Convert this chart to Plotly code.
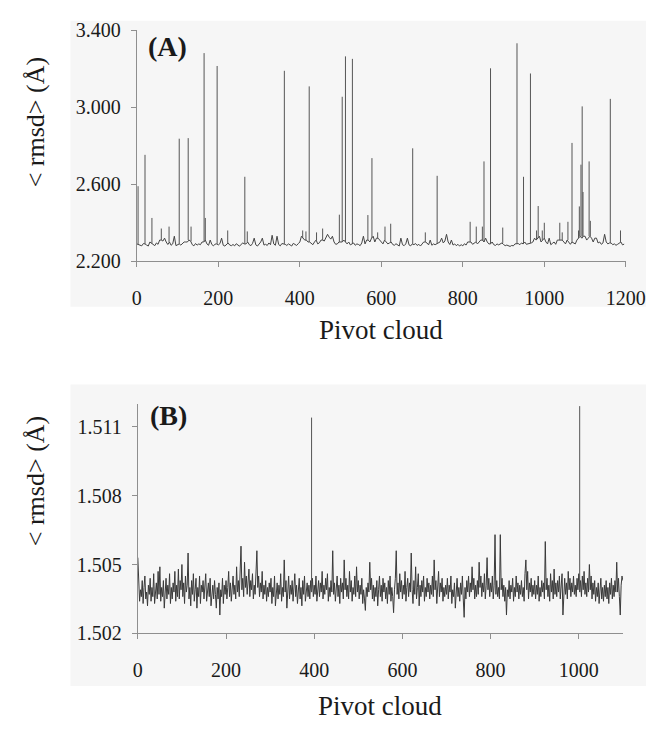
import plotly.graph_objects as go

W, H = 666, 731

# ---------------- Panel A: background trace, one value every 4 pivot clouds ----------------
A_step = 4
A_base = [
    2.290, 2.288, 2.285, 2.280, 2.292, 2.290, 2.284, 2.279, 2.300, 2.292,
    2.286, 2.281, 2.295, 2.288, 2.310, 2.310, 2.305, 2.320, 2.300, 2.287,
    2.300, 2.283, 2.290, 2.330, 2.281, 2.287, 2.290, 2.284, 2.293, 2.300,
    2.300, 2.300, 2.310, 2.305, 2.286, 2.280, 2.292, 2.284, 2.290, 2.286,
    2.300, 2.300, 2.310, 2.290, 2.283, 2.310, 2.287, 2.280, 2.289, 2.290,
    2.285, 2.292, 2.320, 2.283, 2.279, 2.290, 2.295, 2.284, 2.281, 2.287,
    2.280, 2.291, 2.284, 2.278, 2.288, 2.295, 2.290, 2.290, 2.300, 2.286,
    2.281, 2.293, 2.320, 2.285, 2.279, 2.290, 2.300, 2.320, 2.284, 2.288,
    2.282, 2.295, 2.286, 2.335, 2.290, 2.283, 2.330, 2.287, 2.280, 2.292,
    2.290, 2.288, 2.282, 2.290, 2.285, 2.279, 2.293, 2.286, 2.282, 2.291,
    2.300, 2.330, 2.320, 2.310, 2.310, 2.300, 2.300, 2.295, 2.286, 2.300,
    2.310, 2.290, 2.296, 2.310, 2.310, 2.305, 2.320, 2.340, 2.325, 2.315,
    2.330, 2.300, 2.288, 2.290, 2.300, 2.300, 2.300, 2.310, 2.300, 2.290,
    2.300, 2.285, 2.290, 2.295, 2.283, 2.290, 2.287, 2.281, 2.295, 2.330,
    2.290, 2.310, 2.310, 2.300, 2.320, 2.330, 2.300, 2.320, 2.320, 2.310,
    2.300, 2.290, 2.310, 2.300, 2.290, 2.295, 2.300, 2.287, 2.283, 2.291,
    2.284, 2.279, 2.320, 2.286, 2.281, 2.290, 2.320, 2.285, 2.280, 2.290,
    2.286, 2.292, 2.282, 2.288, 2.279, 2.293, 2.300, 2.300, 2.295, 2.285,
    2.310, 2.283, 2.290, 2.286, 2.290, 2.292, 2.300, 2.320, 2.295, 2.305,
    2.340, 2.300, 2.287, 2.310, 2.284, 2.290, 2.281, 2.288, 2.279, 2.286,
    2.280, 2.291, 2.284, 2.300, 2.300, 2.300, 2.288, 2.295, 2.300, 2.290,
    2.300, 2.310, 2.310, 2.300, 2.320, 2.300, 2.290, 2.290, 2.300, 2.286,
    2.282, 2.290, 2.285, 2.292, 2.295, 2.287, 2.281, 2.284, 2.279, 2.277,
    2.282, 2.280, 2.290, 2.290, 2.292, 2.286, 2.295, 2.290, 2.300, 2.288,
    2.290, 2.290, 2.295, 2.300, 2.320, 2.310, 2.320, 2.330, 2.300, 2.310,
    2.320, 2.300, 2.290, 2.320, 2.286, 2.293, 2.300, 2.288, 2.310, 2.310,
    2.310, 2.310, 2.300, 2.290, 2.310, 2.300, 2.288, 2.300, 2.295, 2.290,
    2.310, 2.320, 2.330, 2.320, 2.330, 2.330, 2.310, 2.320, 2.330, 2.320,
    2.300, 2.320, 2.320, 2.295, 2.300, 2.288, 2.295, 2.340, 2.300, 2.290,
    2.295, 2.295, 2.286, 2.290, 2.283, 2.288, 2.292, 2.300, 2.285, 2.289,
]
# Panel A: single-cloud peaks (pivot cloud, <rmsd>)
A_spike_cloud = [
    3, 20, 37, 60, 79, 104, 126, 133, 165, 168, 197, 223, 265, 271, 362,
    407, 415, 423, 441, 456, 497, 504, 512, 529, 567, 577, 591, 609, 623,
    677, 708, 737, 818, 833, 848, 852, 868, 898, 933, 949, 966, 981, 985,
    995, 1000, 1038, 1044, 1058, 1068, 1084, 1086, 1090, 1093, 1095, 1110,
    1113, 1162, 1187,
]
A_spike_rmsd = [
    2.590, 2.753, 2.425, 2.370, 2.380, 2.837, 2.840, 2.380, 3.282, 2.425, 3.215, 2.360, 2.639, 2.355, 3.190,
    2.360, 2.355, 3.109, 2.350, 2.370, 2.442, 3.055, 3.265, 3.252, 2.440, 2.736, 2.350, 2.380, 2.395,
    2.787, 2.350, 2.644, 2.405, 2.380, 2.380, 2.719, 3.203, 2.375, 3.333, 2.639, 3.176, 2.360, 2.487,
    2.360, 2.400, 2.400, 2.350, 2.405, 2.815, 2.360, 2.485, 2.702, 3.005, 2.560, 2.719,
    2.410, 3.044, 2.360,
]

# ---------------- Panel B: background trace, one value every 2 pivot clouds ----------------
B_step = 2
B_base = [
    1.5053, 1.5041, 1.5034, 1.5039, 1.5036, 1.5043, 1.5033, 1.5040, 1.5045, 1.5035, 1.5038, 1.5032, 1.5041, 1.5037, 1.5044, 1.5034, 1.5040, 1.5036, 1.5046, 1.5033, 1.5039, 1.5042, 1.5035, 1.5047, 1.5037,
    1.5049, 1.5034, 1.5040, 1.5036, 1.5043, 1.5031, 1.5038, 1.5044, 1.5035, 1.5041, 1.5037, 1.5046, 1.5033, 1.5040, 1.5035, 1.5042, 1.5038, 1.5047, 1.5034, 1.5041, 1.5036, 1.5048, 1.5035, 1.5043, 1.5039,
    1.5050, 1.5036, 1.5042, 1.5033, 1.5045, 1.5038, 1.5041, 1.5055, 1.5035, 1.5040, 1.5032, 1.5043, 1.5037, 1.5046, 1.5034, 1.5039, 1.5044, 1.5031, 1.5040, 1.5036, 1.5045, 1.5033, 1.5041, 1.5038, 1.5043,
    1.5035, 1.5040, 1.5046, 1.5034, 1.5039, 1.5042, 1.5036, 1.5044, 1.5032, 1.5038, 1.5041, 1.5035, 1.5043, 1.5037, 1.5031, 1.5040, 1.5035, 1.5042, 1.5028, 1.5039, 1.5036, 1.5044, 1.5033, 1.5041, 1.5037,
    1.5043, 1.5035, 1.5040, 1.5047, 1.5036, 1.5042, 1.5034, 1.5039, 1.5045, 1.5037, 1.5041, 1.5035, 1.5049, 1.5038, 1.5043, 1.5036, 1.5046, 1.5058, 1.5039, 1.5044, 1.5036, 1.5051, 1.5040, 1.5045, 1.5037,
    1.5042, 1.5048, 1.5036, 1.5043, 1.5039, 1.5046, 1.5035, 1.5041, 1.5037, 1.5044, 1.5056, 1.5040, 1.5045, 1.5036, 1.5042, 1.5038, 1.5047, 1.5035, 1.5041, 1.5037, 1.5043, 1.5034, 1.5040, 1.5036, 1.5042,
    1.5038, 1.5044, 1.5033, 1.5040, 1.5036, 1.5045, 1.5032, 1.5039, 1.5042, 1.5035, 1.5041, 1.5037, 1.5046, 1.5034, 1.5040, 1.5036, 1.5052, 1.5038, 1.5043, 1.5031, 1.5039, 1.5045, 1.5035, 1.5041, 1.5037,
    1.5043, 1.5034, 1.5040, 1.5046, 1.5036, 1.5041, 1.5033, 1.5039, 1.5044, 1.5035, 1.5040, 1.5032, 1.5043, 1.5037, 1.5045, 1.5034, 1.5039, 1.5042, 1.5036, 1.5041, 1.5035, 1.5043, 1.5038, 1.5044, 1.5036,
    1.5041, 1.5037, 1.5045, 1.5034, 1.5040, 1.5043, 1.5036, 1.5042, 1.5038, 1.5047, 1.5035, 1.5041, 1.5037, 1.5044, 1.5039, 1.5046, 1.5034, 1.5040, 1.5036, 1.5043, 1.5038, 1.5056, 1.5037, 1.5042, 1.5034,
    1.5040, 1.5045, 1.5036, 1.5041, 1.5033, 1.5044, 1.5038, 1.5042, 1.5035, 1.5052, 1.5039, 1.5044, 1.5036, 1.5041, 1.5035, 1.5047, 1.5038, 1.5043, 1.5034, 1.5040, 1.5037, 1.5045, 1.5036, 1.5049, 1.5038,
    1.5043, 1.5035, 1.5041, 1.5037, 1.5044, 1.5033, 1.5039, 1.5035, 1.5030, 1.5040, 1.5036, 1.5042, 1.5038, 1.5051, 1.5039, 1.5044, 1.5035, 1.5041, 1.5034, 1.5040, 1.5036, 1.5043, 1.5032, 1.5039, 1.5045,
    1.5036, 1.5041, 1.5034, 1.5044, 1.5038, 1.5042, 1.5035, 1.5040, 1.5033, 1.5043, 1.5037, 1.5045, 1.5034, 1.5040, 1.5036, 1.5029, 1.5039, 1.5044, 1.5056, 1.5037, 1.5042, 1.5035, 1.5046, 1.5038, 1.5043,
    1.5035, 1.5041, 1.5037, 1.5047, 1.5034, 1.5040, 1.5044, 1.5036, 1.5042, 1.5038, 1.5055, 1.5039, 1.5033, 1.5043, 1.5037, 1.5049, 1.5035, 1.5040, 1.5046, 1.5032, 1.5041, 1.5036, 1.5043, 1.5038, 1.5045,
    1.5034, 1.5040, 1.5036, 1.5044, 1.5038, 1.5042, 1.5035, 1.5041, 1.5037, 1.5045, 1.5036, 1.5052, 1.5039, 1.5043, 1.5033, 1.5040, 1.5047, 1.5036, 1.5042, 1.5038, 1.5044, 1.5034, 1.5040, 1.5036, 1.5041,
    1.5037, 1.5044, 1.5035, 1.5041, 1.5038, 1.5045, 1.5033, 1.5039, 1.5036, 1.5042, 1.5031, 1.5038, 1.5044, 1.5036, 1.5040, 1.5034, 1.5042, 1.5037, 1.5045, 1.5035, 1.5027, 1.5040, 1.5035, 1.5043, 1.5038,
    1.5045, 1.5036, 1.5042, 1.5038, 1.5049, 1.5039, 1.5044, 1.5035, 1.5041, 1.5036, 1.5043, 1.5037, 1.5051, 1.5040, 1.5045, 1.5036, 1.5042, 1.5038, 1.5046, 1.5035, 1.5041, 1.5053, 1.5039, 1.5044, 1.5036,
    1.5042, 1.5038, 1.5045, 1.5035, 1.5041, 1.5063, 1.5037, 1.5043, 1.5036, 1.5040, 1.5035, 1.5063, 1.5039, 1.5044, 1.5036, 1.5041, 1.5034, 1.5040, 1.5028, 1.5039, 1.5036, 1.5043, 1.5035, 1.5041, 1.5038,
    1.5044, 1.5034, 1.5040, 1.5036, 1.5045, 1.5038, 1.5042, 1.5035, 1.5041, 1.5037, 1.5043, 1.5036, 1.5040, 1.5034, 1.5046, 1.5052, 1.5039, 1.5047, 1.5035, 1.5042, 1.5038, 1.5044, 1.5036, 1.5041, 1.5037,
    1.5043, 1.5035, 1.5041, 1.5037, 1.5045, 1.5034, 1.5040, 1.5036, 1.5043, 1.5038, 1.5042, 1.5035, 1.5060, 1.5039, 1.5044, 1.5036, 1.5041, 1.5034, 1.5046, 1.5038, 1.5043, 1.5035, 1.5048, 1.5037, 1.5042,
    1.5036, 1.5043, 1.5038, 1.5045, 1.5035, 1.5040, 1.5046, 1.5028, 1.5039, 1.5044, 1.5037, 1.5042, 1.5035, 1.5047, 1.5039, 1.5044, 1.5036, 1.5042, 1.5038, 1.5045, 1.5037, 1.5041, 1.5036, 1.5044, 1.5039,
    1.5046, 1.5038, 1.5043, 1.5036, 1.5045, 1.5039, 1.5047, 1.5037, 1.5042, 1.5036, 1.5044, 1.5038, 1.5050, 1.5039, 1.5045, 1.5035, 1.5042, 1.5037, 1.5043, 1.5034, 1.5040, 1.5036, 1.5042, 1.5033, 1.5039,
    1.5044, 1.5035, 1.5040, 1.5034, 1.5041, 1.5036, 1.5043, 1.5035, 1.5040, 1.5033, 1.5042, 1.5037, 1.5044, 1.5035, 1.5041, 1.5036, 1.5043, 1.5038, 1.5051, 1.5038, 1.5044, 1.5036, 1.5028, 1.5041, 1.5045,
    1.5043,
]
# Panel B: single-cloud peaks (pivot cloud, <rmsd>)
B_spike_cloud = [394, 1002]
B_spike_rmsd = [1.5114, 1.5119]

A_xticks = [0, 200, 400, 600, 800, 1000, 1200]
A_yticks = [2.2, 2.6, 3.0, 3.4]
B_xticks = [0, 200, 400, 600, 800, 1000]
B_yticks = [1.502, 1.505, 1.508, 1.511]

Y_TITLE = "< rmsd> (Å)"
X_TITLE = "Pivot cloud"

SERIF = "Liberation Serif, Times New Roman, serif"
LINE_COLOR = "#444444"
SPIKE_COLOR = "#555555"
AXIS_COLOR = "#8f8f8f"
BOX_COLOR = "#f6f6f6"


def px(x):
    return x / W


def py(y):
    return 1 - y / H


def spike_segments(base, step, clouds, peaks):
    xs, ys = [], []
    for c, v in zip(clouds, peaks):
        b = base[min(len(base) - 1, round(c / step))]
        xs += [c, c, None]
        ys += [b, v, None]
    return xs, ys


A_x = [i * A_step for i in range(len(A_base))]
B_x = [i * B_step for i in range(len(B_base))]
A_sx, A_sy = spike_segments(A_base, A_step, A_spike_cloud, A_spike_rmsd)
B_sx, B_sy = spike_segments(B_base, B_step, B_spike_cloud, B_spike_rmsd)

fig = go.Figure()
fig.add_trace(go.Scatter(x=A_x, y=A_base, mode="lines", line=dict(color=LINE_COLOR, width=1),
                         xaxis="x", yaxis="y", showlegend=False, hoverinfo="skip"))
fig.add_trace(go.Scatter(x=A_sx, y=A_sy, mode="lines", line=dict(color=SPIKE_COLOR, width=1),
                         xaxis="x", yaxis="y", showlegend=False, hoverinfo="skip"))
fig.add_trace(go.Scatter(x=B_x, y=B_base, mode="lines", line=dict(color="#3a3a3a", width=1),
                         xaxis="x2", yaxis="y2", showlegend=False, hoverinfo="skip"))
fig.add_trace(go.Scatter(x=B_sx, y=B_sy, mode="lines", line=dict(color=SPIKE_COLOR, width=1),
                         xaxis="x2", yaxis="y2", showlegend=False, hoverinfo="skip"))

common = dict(showline=True, linecolor=AXIS_COLOR, linewidth=1,
              ticks="outside", tickcolor=AXIS_COLOR, ticklen=5, tickwidth=1,
              showgrid=False, zeroline=False,
              tickfont=dict(family=SERIF, size=20, color="#1a1a1a"))

fig.update_layout(
    width=W, height=H,
    margin=dict(l=0, r=0, t=0, b=0),
    paper_bgcolor="white", plot_bgcolor="rgba(0,0,0,0)",
    xaxis=dict(domain=[px(137), px(645)], range=[0, 1200], tickvals=A_xticks,
               anchor="y", ticklabelstandoff=14, **common),
    yaxis=dict(domain=[py(258), py(20)], range=[2.2, 3.4], tickvals=A_yticks,
               tickformat=".3f", anchor="x", ticklabelstandoff=6, **common),
    xaxis2=dict(domain=[px(138), px(642)], range=[0, 1100], tickvals=B_xticks,
                anchor="y2", ticklabelstandoff=14, **common),
    yaxis2=dict(domain=[py(641.7), py(405)], range=[1.502, 1.512], tickvals=B_yticks,
                tickformat=".3f", anchor="x2", ticklabelstandoff=6, **common),
    shapes=[
        dict(type="rect", xref="paper", yref="paper", layer="below",
             x0=px(68), x1=px(666), y0=py(305), y1=py(10),
             fillcolor=BOX_COLOR, line=dict(width=0)),
        dict(type="rect", xref="paper", yref="paper", layer="below",
             x0=px(68), x1=px(666), y0=py(696), y1=py(385),
             fillcolor=BOX_COLOR, line=dict(width=0)),
    ],
    annotations=[
        dict(text="<b>(A)</b>", xref="paper", yref="paper", x=px(147), y=py(37),
             xanchor="left", yanchor="middle", showarrow=False,
             font=dict(family=SERIF, size=28, color="#1a1a1a")),
        dict(text="<b>(B)</b>", xref="paper", yref="paper", x=px(149), y=py(417),
             xanchor="left", yanchor="middle", showarrow=False,
             font=dict(family=SERIF, size=28, color="#1a1a1a")),
        dict(text=Y_TITLE, xref="paper", yref="paper", x=px(32), y=py(115),
             xanchor="center", yanchor="middle", textangle=-90, showarrow=False,
             font=dict(family=SERIF, size=26, color="#1a1a1a")),
        dict(text=Y_TITLE, xref="paper", yref="paper", x=px(32), y=py(485),
             xanchor="center", yanchor="middle", textangle=-90, showarrow=False,
             font=dict(family=SERIF, size=26, color="#1a1a1a")),
        dict(text=X_TITLE, xref="paper", yref="paper", x=px(391), y=py(329),
             xanchor="center", yanchor="middle", showarrow=False,
             font=dict(family=SERIF, size=27, color="#1a1a1a")),
        dict(text=X_TITLE, xref="paper", yref="paper", x=px(390), y=py(717),
             xanchor="center", yanchor="middle", showarrow=False,
             font=dict(family=SERIF, size=27, color="#1a1a1a")),
    ],
)

fig.write_html("out.html")
